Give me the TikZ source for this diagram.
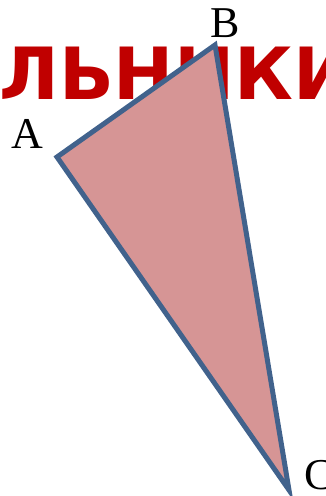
\documentclass[tikz,border=0pt]{standalone}
\usepackage{fontspec}
\setmainfont{Liberation Serif}
\newfontfamily\titlefont{DejaVu Sans}
\usepackage{xcolor}
\usetikzlibrary{positioning}
\definecolor{titlered}{HTML}{C00000}
\definecolor{edgeblue}{HTML}{41628C}
\definecolor{facepink}{HTML}{D69595}
\tikzset{
  titletext/.style={inner sep=0pt, anchor=base west, text=titlered,
    font=\titlefont\bfseries\fontsize{72}{72}\selectfont},
  vertlabel/.style={inner sep=0pt, font=\fontsize{44}{44}\selectfont},
  trifill/.style={fill=facepink, draw=edgeblue, line width=5pt, line join=miter},
}

\begin{document}
\begin{tikzpicture}[x=1pt, y=-1pt]
  \useasboundingbox (0,0) rectangle (326,496);
  \clip (0,0) rectangle (326,496);

  \node[titletext] (title) at (-1,99) {ЛЬНИКИ};

  \coordinate (A) at (57,157);
  \coordinate (B) at (215,45);
  \coordinate (C) at (289,490);
  \filldraw[trifill] (A) -- (B) -- (C) -- cycle;

  \node[vertlabel, anchor=south east] (labA) at (43,149) {A};
  \node[vertlabel, anchor=south] (labB) at (225,38) {B};
  \node[vertlabel, anchor=south west] (labC) at (304,490) {C};
\end{tikzpicture}
\end{document}
